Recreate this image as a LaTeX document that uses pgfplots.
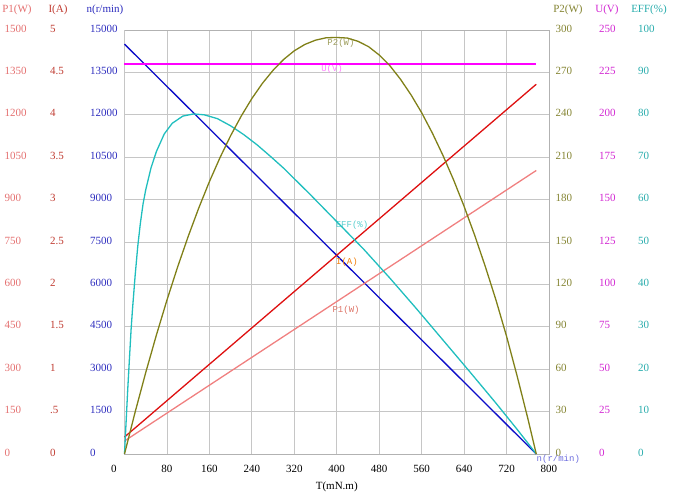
\documentclass[border=0pt]{standalone}
\usepackage{fontspec}
\setmainfont{Liberation Serif}
\newfontfamily\monofont{Liberation Mono}
\usepackage{pgfplots}
\pgfplotsset{compat=1.18}
\definecolor{cP1}{RGB}{240,128,128}
\definecolor{cP1t}{RGB}{228,112,112}
\definecolor{cI}{RGB}{222,16,16}
\definecolor{cIt}{RGB}{192,60,50}
\definecolor{cN}{RGB}{12,12,200}
\definecolor{cNt}{RGB}{45,45,190}
\definecolor{cP2}{RGB}{128,128,24}
\definecolor{cP2t}{RGB}{132,132,50}
\definecolor{cU}{RGB}{255,0,255}
\definecolor{cUt}{RGB}{210,40,210}
\definecolor{cE}{RGB}{32,190,190}
\definecolor{cEt}{RGB}{40,172,172}
\pgfplotsset{
  base/.style={scale only axis, width=424.5pt, height=424pt, at={(0,0)}, anchor=south west,
    xmin=0, xmax=800, clip=false, tick style={draw=none}, axis line style={draw=none},
    scaled y ticks=false, scaled x ticks=false,
    ticklabel style={font=\fontsize{11}{13}\selectfont}},
  sec/.style={base, xtick=\empty},
  lefty/.style={yticklabel pos=left, yticklabel style={anchor=west, inner sep=0pt, xshift=#1, yshift=1.5pt}},
  righty/.style={yticklabel pos=right, yticklabel style={anchor=west, inner sep=0pt, xshift=#1, yshift=1.5pt}},
}
\begin{document}
\begin{tikzpicture}
\useasboundingbox (-124.5pt,-43pt) rectangle (548.5pt,454pt);
% main axis: n(r/min), grid, x axis
\begin{axis}[base, ymin=0, ymax=15000,
  ytick={0,1500,3000,4500,6000,7500,9000,10500,12000,13500,15000},
  yticklabels={0,1500,3000,4500,6000,7500,9000,10500,12000,13500,15000},
  lefty=-34.5pt, yticklabel style={text=cNt},
  xtick={80,160,240,320,400,480,560,640,720,800},
  xticklabels={80,160,240,320,400,480,560,640,720,800},
  extra x ticks={0}, extra x tick labels={0},
  extra x tick style={xticklabel style={xshift=-10.5pt}},
  xticklabel style={anchor=center, inner sep=0pt, yshift=-15pt},
  grid=major, grid style={draw=gray!45, line width=0.8pt},
  axis line style={draw=gray!60, line width=0.8pt}]
\addplot[cN, line width=1.3pt] coordinates {(0,14500) (776,0)};
\node[font=\fontsize{11}{13}\selectfont] at (rel axis cs:0.5,0) [yshift=-33pt] {T(mN.m)};
\node[font=\fontsize{11}{13}\selectfont, text=cP1t] at (rel axis cs:0,1) [xshift=-107.5pt, yshift=20pt] {P1(W)};
\node[font=\fontsize{11}{13}\selectfont, text=cIt] at (rel axis cs:0,1) [xshift=-66.5pt, yshift=20pt] {I(A)};
\node[font=\fontsize{11}{13}\selectfont, text=cNt] at (rel axis cs:0,1) [xshift=-19.5pt, yshift=20pt] {n(r/min)};
\node[font=\fontsize{11}{13}\selectfont, text=cP2t] at (rel axis cs:1,1) [xshift=19pt, yshift=20pt] {P2(W)};
\node[font=\fontsize{11}{13}\selectfont, text=cUt] at (rel axis cs:1,1) [xshift=58pt, yshift=20pt] {U(V)};
\node[font=\fontsize{11}{13}\selectfont, text=cEt] at (rel axis cs:1,1) [xshift=100pt, yshift=20pt] {EFF(\%)};
\node[font=\monofont\fontsize{9}{11}\selectfont, text=cP2t!80] at (rel axis cs:0.51,0.969) {P2(W)};
\node[font=\monofont\fontsize{9}{11}\selectfont, text=cU!50] at (rel axis cs:0.489,0.908) {U(V)};
\node[font=\monofont\fontsize{9}{11}\selectfont, text=cE!75] at (rel axis cs:0.536,0.540) {EFF(\%)};
\node[font=\monofont\fontsize{9}{11}\selectfont, text=orange!80!brown] at (rel axis cs:0.524,0.453) {I(A)};
\node[font=\monofont\fontsize{9}{11}\selectfont, text=cP1t!80!brown] at (rel axis cs:0.522,0.340) {P1(W)};
\node[font=\monofont\fontsize{9}{11}\selectfont, text=cN!60] at (rel axis cs:1.022,-0.0125) {n(r/min)};
\end{axis}
% P1(W)
\begin{axis}[sec, ymin=0, ymax=1500,
  ytick={0,150,300,450,600,750,900,1050,1200,1350,1500},
  yticklabels={0,150,300,450,600,750,900,1050,1200,1350,1500},
  lefty=-120pt, yticklabel style={text=cP1t}]
\addplot[cP1, line width=1.3pt] coordinates {(0,46) (776,1003)};
\end{axis}
% I(A)
\begin{axis}[sec, ymin=0, ymax=5,
  ytick={0,0.5,1,1.5,2,2.5,3,3.5,4,4.5,5},
  yticklabels={0,.5,1,1.5,2,2.5,3,3.5,4,4.5,5},
  lefty=-74.5pt, yticklabel style={text=cIt}]
\addplot[cI, line width=1.3pt] coordinates {(0,0.20) (776,4.36)};
\end{axis}
% U(V)
\begin{axis}[sec, ymin=0, ymax=250,
  ytick={0,25,50,75,100,125,150,175,200,225,250},
  yticklabels={0,25,50,75,100,125,150,175,200,225,250},
  righty=50pt, yticklabel style={text=cUt}]
\addplot[cU, line width=1.3pt] coordinates {(0,230) (776,230)};
\end{axis}
% EFF(%)
\begin{axis}[sec, ymin=0, ymax=100,
  ytick={0,10,20,30,40,50,60,70,80,90,100},
  yticklabels={0,10,20,30,40,50,60,70,80,90,100},
  righty=89pt, yticklabel style={text=cEt}]
\addplot[cE, line width=1.3pt] coordinates {
(0,0) (2,5) (4,10) (6,15) (8,19.5) (10,24) (12.5,29.5) (15,34) (20,42) (25,49)
(30,54.5) (35,59) (40,62.3) (50,67.5) (60,71.3) (75,75.5) (90,78) (110,79.7)
(130,80.2) (150,80.0) (175,79.1) (200,77.4) (225,75.3) (250,72.9) (275,70.2)
(300,67.4) (325,64.3) (350,61.2) (375,58.0) (400,54.8) (450,48.4) (500,41.5)
(550,34.3) (600,26.9) (650,19.5) (700,12.0) (740,5.8) (760,2.6) (776,0)};
\end{axis}
% P2(W)
\begin{axis}[sec, ymin=0, ymax=300,
  ytick={0,30,60,90,120,150,180,210,240,270,300},
  yticklabels={0,30,60,90,120,150,180,210,240,270,300},
  righty=6.5pt, yticklabel style={text=cP2t}]
\addplot[cP2, line width=1.3pt] coordinates {
(0,0) (20,29.6) (40,57.6) (60,84) (80,108.9) (100,132.2) (120,153.9) (140,174.1)
(160,192.7) (180,209.7) (200,225.2) (220,239.1) (240,251.5) (260,262.3) (280,271.5)
(300,279.2) (320,285.3) (340,289.8) (360,292.8) (380,294.5) (400,294.7) (420,294.3)
(440,292) (460,288.2) (480,282.3) (500,274.8) (520,265.2) (540,254.1) (560,241.5)
(580,227.2) (600,211.4) (620,194.1) (640,175.2) (660,154.7) (680,132.6) (700,109)
(720,83.3) (740,55.1) (760,25.3) (776,0)};
\end{axis}
\end{tikzpicture}
\end{document}
